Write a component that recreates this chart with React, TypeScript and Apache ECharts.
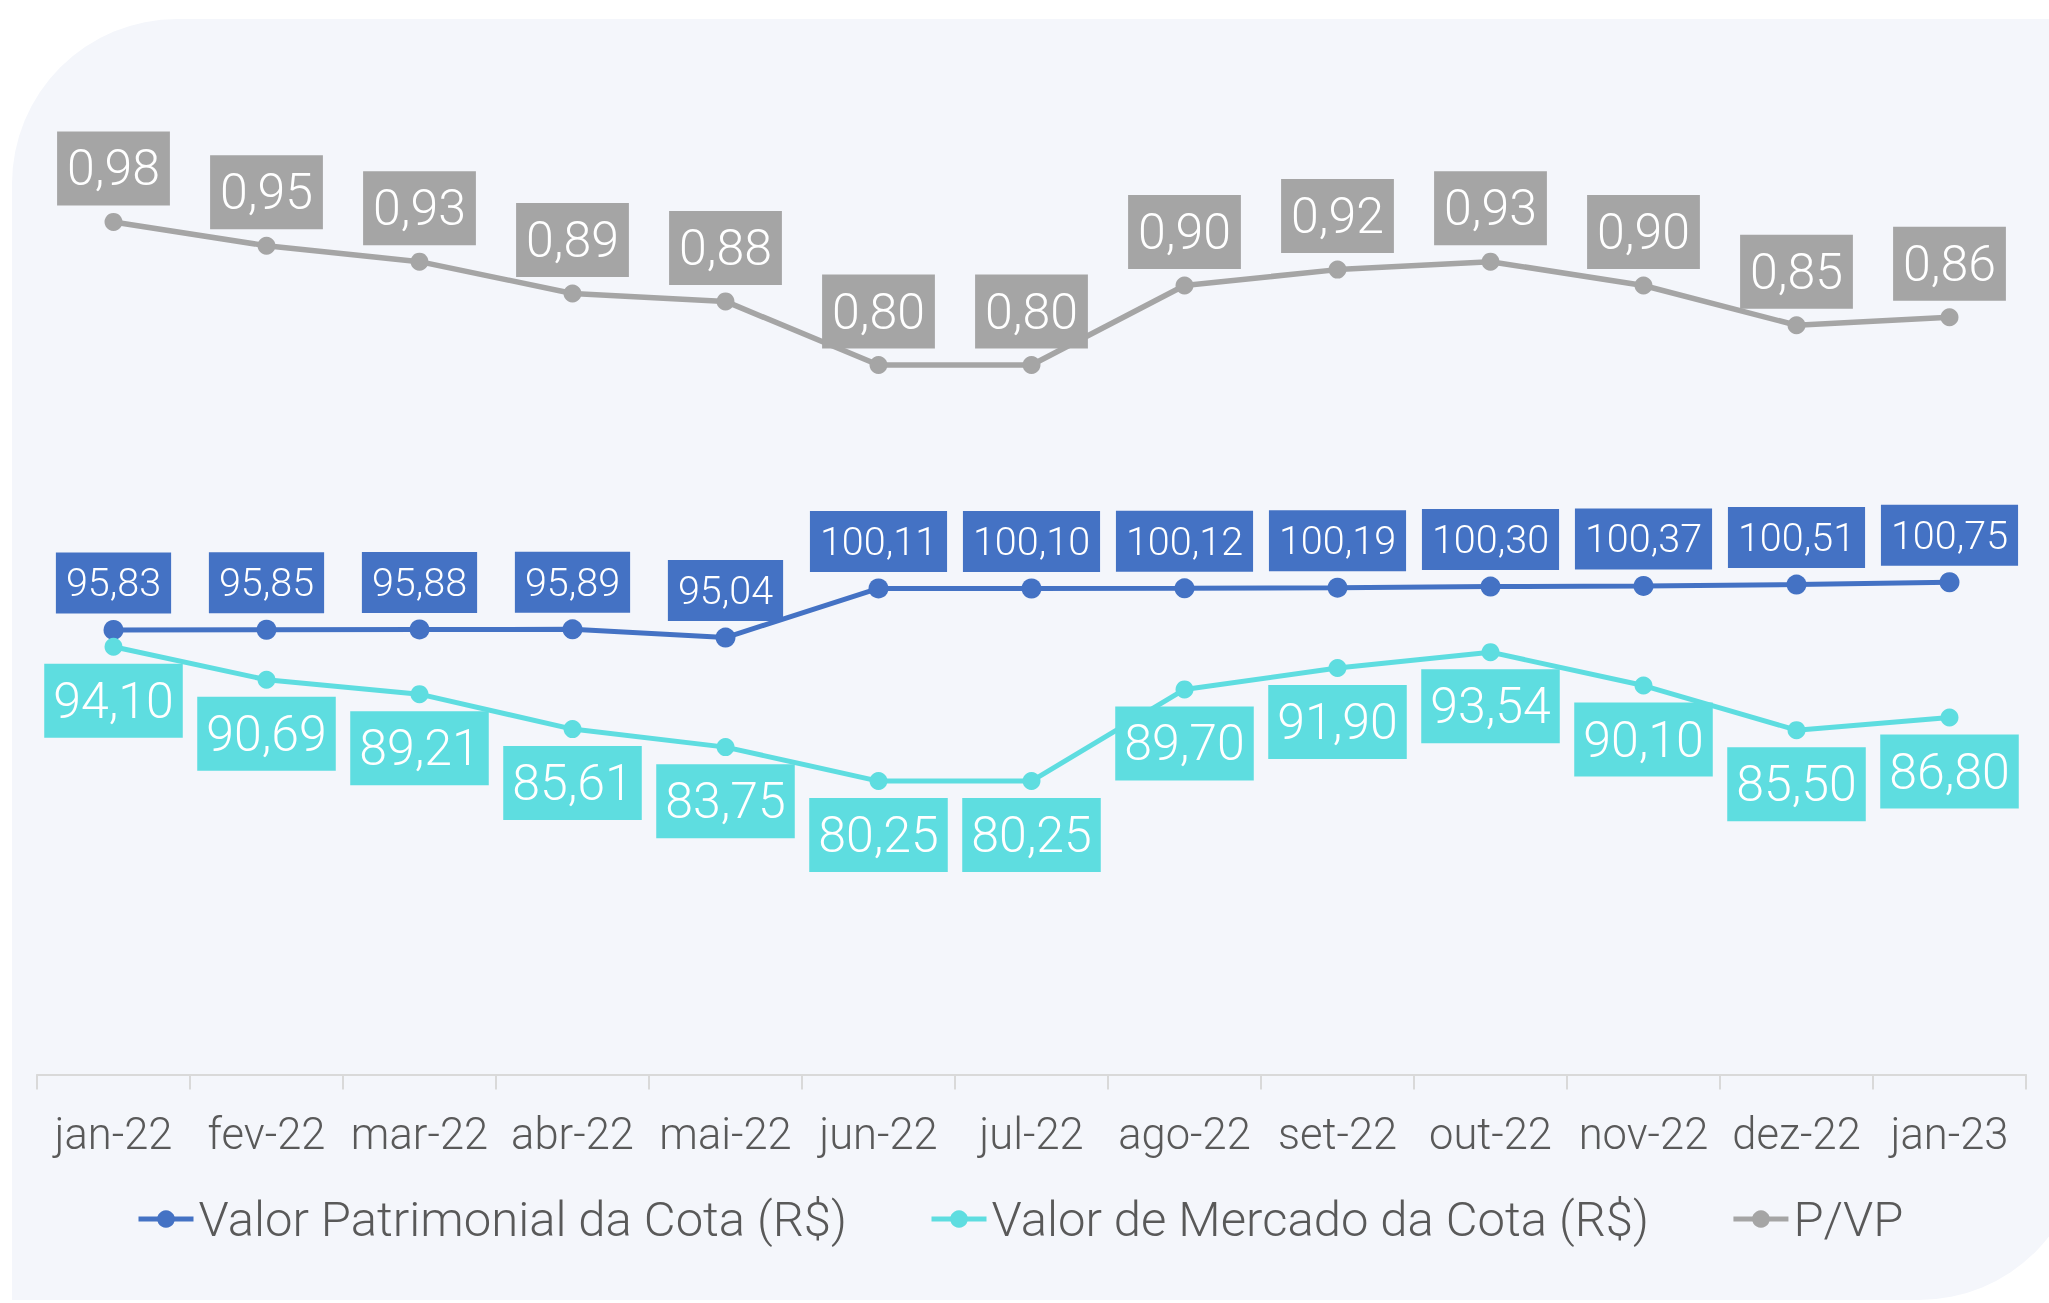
import React, { useEffect, useRef } from 'react';
import * as echarts from 'echarts';

const categories = ['jan-22', 'fev-22', 'mar-22', 'abr-22', 'mai-22', 'jun-22', 'jul-22', 'ago-22', 'set-22', 'out-22', 'nov-22', 'dez-22', 'jan-23'];
const valorPatrimonial = [95.83, 95.85, 95.88, 95.89, 95.04, 100.11, 100.10, 100.12, 100.19, 100.30, 100.37, 100.51, 100.75];
const valorMercado = [94.10, 90.69, 89.21, 85.61, 83.75, 80.25, 80.25, 89.70, 91.90, 93.54, 90.10, 85.50, 86.80];
const pvp = [0.98, 0.95, 0.93, 0.89, 0.88, 0.80, 0.80, 0.90, 0.92, 0.93, 0.90, 0.85, 0.86];

const seriesNames = ['Valor Patrimonial da Cota (R$)', 'Valor de Mercado da Cota (R$)', 'P/VP'];

const FONT = 'Roboto, "Open Sans", "Noto Sans", sans-serif';
const WEIGHT = 300;
const BLUE = '#4472C4';
const CYAN = '#5EDDE0';
const GRAY = '#A5A5A5';

export default function App() {
  const ref = useRef<HTMLDivElement>(null);
  useEffect(() => {
    const chart = echarts.init(ref.current as HTMLDivElement, null, { renderer: 'svg' });
    const fmt = (p: any) => Number(p.value).toFixed(2).replace('.', ',');
    chart.setOption({
      animation: false,
      graphic: [
        {
          type: 'rect',
          z: -10,
          silent: true,
          shape: { x: 12, y: 19, width: 2072, height: 1281, r: [165, 0, 165, 0] },
          style: { fill: '#F4F6FB' },
        },
      ],
      grid: { left: 37, right: 23, top: 104.5, bottom: 228.5, containLabel: false, outerBoundsMode: 'none' },
      legend: {
        data: seriesNames,
        left: 131,
        top: 1189,
        itemWidth: 55,
        itemHeight: 22,
        itemGap: 82,
        lineStyle: { width: 5 },
        textStyle: { fontFamily: FONT, fontWeight: WEIGHT, fontSize: 49, color: '#595959', lineHeight: 50 },
      },
      xAxis: {
        type: 'category',
        data: categories,
        boundaryGap: true,
        axisLine: { show: true, onZero: false, lineStyle: { color: '#D9D9D9', width: 2 } },
        axisTick: { show: true, length: 15, alignWithLabel: false, lineStyle: { color: '#D9D9D9', width: 2 } },
        axisLabel: { interval: 0, color: '#595959', fontFamily: FONT, fontWeight: WEIGHT, fontSize: 43.5, lineHeight: 46, margin: 37 },
        splitLine: { show: false },
      },
      yAxis: [
        { type: 'value', min: 50, max: 150, show: false, splitLine: { show: false } },
        { type: 'value', min: -0.0925, max: 1.1277, show: false, splitLine: { show: false } },
      ],
      series: [
        {
          name: seriesNames[0],
          type: 'line',
          yAxisIndex: 0,
          data: valorPatrimonial,
          symbol: 'circle',
          symbolSize: 20,
          lineStyle: { color: BLUE, width: 5 },
          itemStyle: { color: BLUE },
          emphasis: { disabled: true },
          label: {
            show: true,
            position: 'top',
            distance: 6.5,
            formatter: fmt,
            color: '#FFFFFF',
            backgroundColor: BLUE,
            padding: [10, 10, 10, 10],
            fontFamily: FONT,
            fontWeight: WEIGHT,
            fontSize: 39.5,
            lineHeight: 41,
          },
        },
        {
          name: seriesNames[1],
          type: 'line',
          yAxisIndex: 0,
          data: valorMercado,
          symbol: 'circle',
          symbolSize: 18,
          lineStyle: { color: CYAN, width: 5 },
          itemStyle: { color: CYAN },
          emphasis: { disabled: true },
          label: {
            show: true,
            position: 'bottom',
            distance: 8,
            formatter: fmt,
            color: '#FFFFFF',
            backgroundColor: CYAN,
            padding: [10, 9, 10, 9],
            fontFamily: FONT,
            fontWeight: WEIGHT,
            fontSize: 50,
            lineHeight: 54,
          },
        },
        {
          name: seriesNames[2],
          type: 'line',
          yAxisIndex: 1,
          data: pvp,
          symbol: 'circle',
          symbolSize: 18,
          lineStyle: { color: GRAY, width: 5.5 },
          itemStyle: { color: GRAY },
          emphasis: { disabled: true },
          label: {
            show: true,
            position: 'top',
            distance: 7.5,
            formatter: fmt,
            color: '#FFFFFF',
            backgroundColor: GRAY,
            padding: [10, 10, 10, 10],
            fontFamily: FONT,
            fontWeight: WEIGHT,
            fontSize: 50,
            lineHeight: 54,
          },
        },
      ],
    });
    return () => chart.dispose();
  }, []);
  return <div ref={ref} style={{ position: 'fixed', left: 0, top: 0, width: 2049, height: 1303 }} />;
}
